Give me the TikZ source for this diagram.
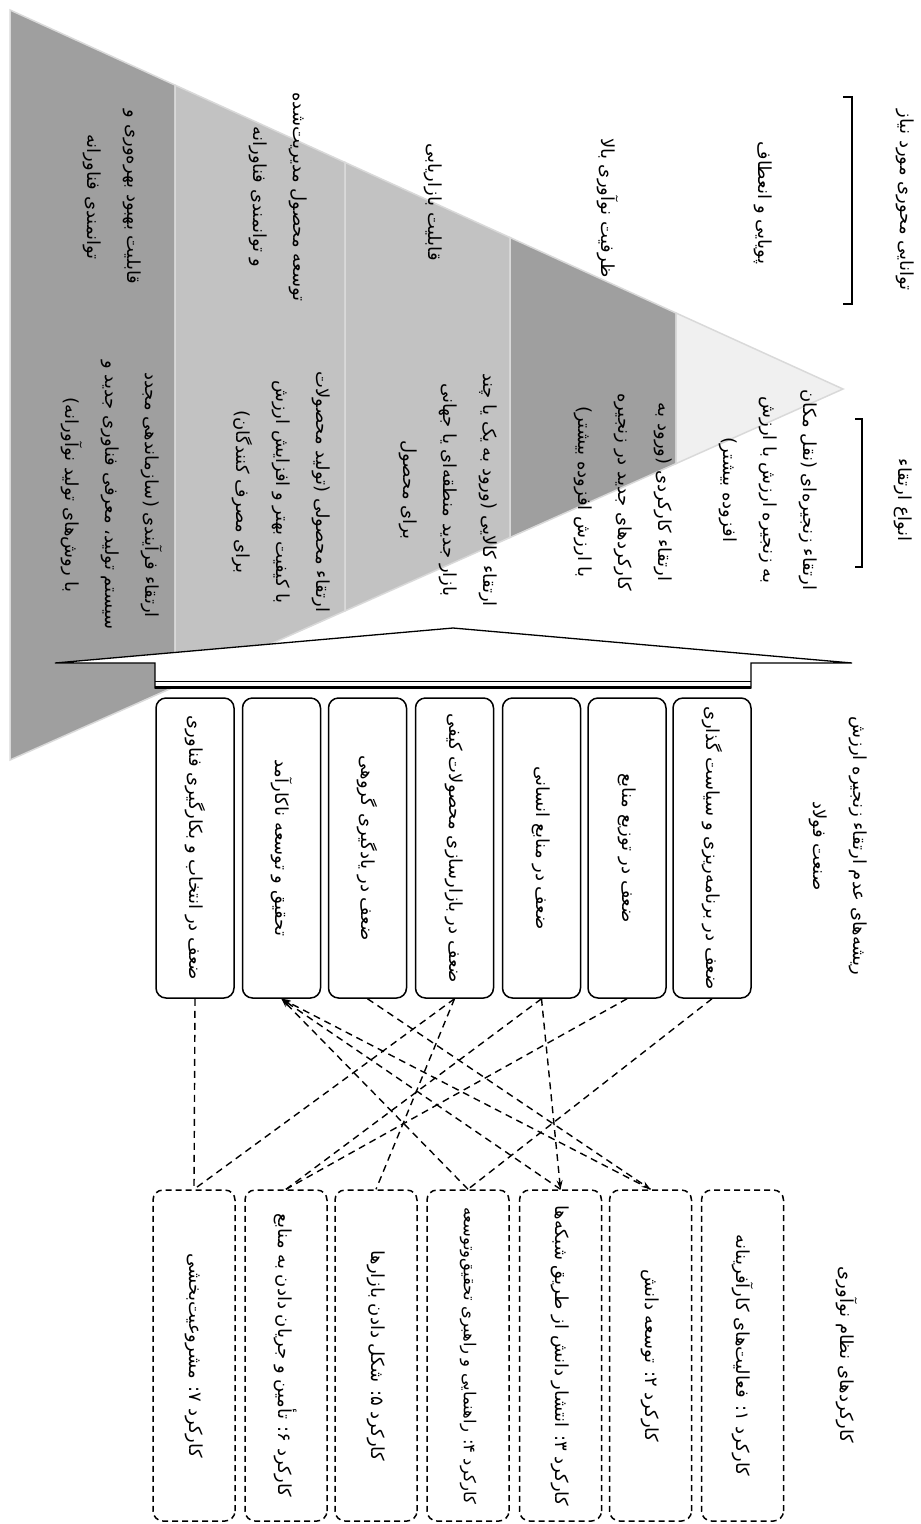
\documentclass[tikz,border=0pt]{standalone}
\usepackage{fontspec}
\usetikzlibrary{arrows.meta}
\TeXXeTstate=1
\newfontfamily\fa[Script=Arabic]{DejaVu Sans}
\newcommand{\faR}[1]{\beginR #1\endR}
\begin{document}
\begin{tikzpicture}[x=1pt,y=-1pt,
  fa/.style={font=\fa\fontsize{18}{40}\selectfont, rotate=-90, align=center, inner sep=0pt},
  rootbox/.style={fa, draw, line width=1.5pt, rounded corners=10pt, minimum width=300pt, minimum height=78pt},
  funcbox/.style={fa, draw, dash pattern=on 6pt off 4pt, line width=1.5pt, rounded corners=10pt, minimum width=331pt, minimum height=82pt},
  link/.style={draw, line width=1.4pt, dash pattern=on 7pt off 5pt},
  arr/.style={link, -{Stealth[length=9pt,width=6pt]}},
  bandsep/.style={draw=white!85!black, line width=1.5pt},
]
\useasboundingbox (0,0) rectangle (921,1524);
% funnel bands
\fill[gray!75, bandsep] (10,10) -- (175,85.1) -- (175,686.6) -- (10,760) -- cycle;
\fill[gray!48, bandsep] (175,85.1) -- (345,162.4) -- (345,610.9) -- (175,686.6) -- cycle;
\fill[gray!48, bandsep] (345,162.4) -- (510,237.5) -- (510,537.5) -- (345,610.9) -- cycle;
\fill[gray!75, bandsep] (510,237.5) -- (676,313) -- (676,463.6) -- (510,537.5) -- cycle;
\fill[gray!12, bandsep] (676,313) -- (843,389) -- (676,463.6) -- cycle;
% arrow shape
\draw[fill=white, line width=1.3pt] (55,663) -- (453,628) -- (852,663) -- (751,663) -- (751,688) -- (155,688) -- (155,663) -- cycle;
\draw[line width=0.9pt] (155,681.5) -- (751,681.5);
\draw[line width=3pt] (155,687) -- (751,687);
% brackets
\draw[line width=1.6pt] (843,97) -- (852,97) -- (852,304) -- (843,304);
\draw[line width=1.6pt] (855,419) -- (862,419) -- (862,567) -- (855,567);
% headings
\node[fa] (h1) at (905,200) {\faR{توانایی محوری مورد نیاز}};
\node[fa] (h2) at (903,500) {\faR{انواع ارتقاء}};
\node[fa] (h3) at (838,846) {\faR{ریشه‌های عدم ارتقاء زنجیره ارزش}\\\faR{صنعت فولاد}};
\node[fa] (h4) at (847,1355) {\faR{کارکردهای نظام نوآوری}};
% capabilities
\node[fa] (c1) at (112,197) {\faR{قابلیت بهبود بهره‌وری و}\\\faR{توانمندی فناورانه}};
\node[fa] (c2) at (278,197) {\faR{توسعه محصول مدیریت‌شده}\\\faR{و توانمندی فناورانه}};
\node[fa] (c3) at (433,202) {\faR{قابلیت بازاریابی}};
\node[fa] (c4) at (608,208) {\faR{ظرفیت نوآوری بالا}};
\node[fa] (c5) at (763,203) {\faR{پویایی و انعطاف}};
% upgrading types
\node[fa] (u1) at (112,495) {\faR{ارتقاء فرآیندی (سازماندهی مجدد}\\\faR{سیستم تولید، معرفی فناوری جدید و}\\\faR{با روش‌های تولید نوآورانه)}};
\node[fa] (u2) at (281,492) {\faR{ارتقاء محصولی (تولید محصولات}\\\faR{با کیفیت بهتر و افزایش ارزش}\\\faR{برای مصرف کنندگان)}};
\node[fa] (u3) at (448,490) {\faR{ارتقاء کالایی (ورود به یک یا چند}\\\faR{بازار جدید منطقه‌ای یا جهانی}\\\faR{برای محصول}};
\node[fa] (u4) at (623,492) {\faR{ارتقاء کارکردی (ورود به}\\\faR{کارکردهای جدید در زنجیره}\\\faR{با ارزش افزوده بیشتر)}};
\node[fa] (u5) at (768,490) {\faR{ارتقاء زنجیره‌ای (نقل مکان}\\\faR{به زنجیره ارزش با ارزش}\\\faR{افزوده بیشتر)}};
% root boxes
\node[rootbox] (b1) at (195,848) {\faR{ضعف  در انتخاب و بکارگیری فناوری}};
\node[rootbox] (b2) at (281.5,848) {\faR{تحقیق و توسعه ناکارآمد}};
\node[rootbox] (b3) at (367.5,848) {\faR{ضعف در یادگیری گروهی}};
\node[rootbox] (b4) at (454.5,848) {\faR{ضعف در بازارسازی محصولات کیفی}};
\node[rootbox] (b5) at (541.5,848) {\faR{ضعف در منابع انسانی}};
\node[rootbox] (b6) at (627,848) {\faR{ضعف در توزیع منابع}};
\node[rootbox] (b7) at (712,848) {\faR{ضعف در برنامه‌ریزی و سیاست گذاری}};
% function boxes
\node[funcbox] (dA) at (194,1355.5) {\faR{کارکرد ۷: مشروعیت‌بخشی}};
\node[funcbox] (dB) at (286,1355.5) {\faR{کارکرد ۶: تأمین و جریان دادن به منابع}};
\node[funcbox] (dC) at (376,1355.5) {\faR{کارکرد ۵: شکل دادن بازارها}};
\node[funcbox, font=\fa\fontsize{16.5}{40}\selectfont] (dD) at (468,1355.5) {\faR{کارکرد ۴: راهنمایی و راهبری تحقیق‌وتوسعه}};
\node[funcbox] (dE) at (560.5,1355.5) {\faR{کارکرد ۳: انتشار دانش از طریق شبکه‌ها}};
\node[funcbox] (dF) at (650.5,1355.5) {\faR{کارکرد ۲: توسعه دانش}};
\node[funcbox] (dG) at (742.5,1355.5) {\faR{کارکرد ۱: فعالیت‌های کارآفرینانه}};
% connectors
\draw[link] (b1.east) -- (dA.west);
\draw[link] (b4.east) -- (dA.west);
\draw[link] (b4.east) -- (dC.west);
\draw[link] (b5.east) -- (dB.west);
\draw[link] (b6.east) -- (dB.west);
\draw[arr] (b5.east) -- (dE.west);
\draw[link] (b7.east) -- (dD.west);
\draw[arr] (b3.east) -- (dF.west);
\draw[arr] (dD.west) -- (b2.east);
\draw[arr] (dE.west) -- (b2.east);
\draw[arr] (dF.west) -- (b2.east);
\end{tikzpicture}
\end{document}
